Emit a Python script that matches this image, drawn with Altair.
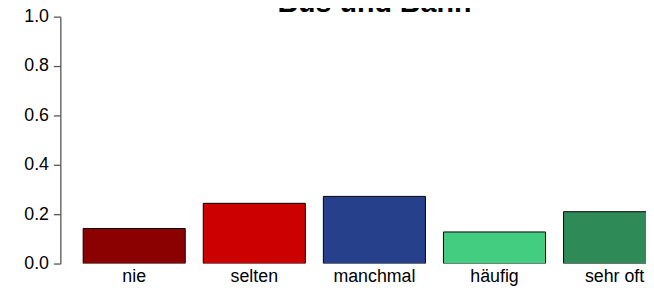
import altair as alt
import pandas as pd

categories = ["nie", "selten", "manchmal", "häufig", "sehr oft"]
values = [0.142, 0.244, 0.272, 0.128, 0.210]
colors = ["#8B0000", "#CD0000", "#27408B", "#43CD80", "#2E8B57"]
title_text = "Bus und Bahn"

df = pd.DataFrame({"cat": categories, "val": values})

FONT = "Liberation Sans"

x = alt.X(
    "cat:N",
    sort=categories,
    scale=alt.Scale(range=[0, 636], paddingInner=0.15, paddingOuter=0.19),
    axis=alt.Axis(
        title=None, domain=False, ticks=False, labelAngle=0,
        labelFont=FONT, labelFontSize=18, labelColor="#000000", labelPadding=4,
    ),
)

bars = alt.Chart(df).mark_bar(stroke="#000000", strokeWidth=1, clip=True).encode(
    x=x,
    y=alt.Y(
        "val:Q",
        scale=alt.Scale(domain=[0, 1], nice=False, zero=True),
        axis=alt.Axis(
            title=None, values=[0, 0.2, 0.4, 0.6, 0.8, 1.0], format=".1f",
            grid=False, domainColor="#555555", tickColor="#555555",
            domainWidth=1.3, tickWidth=1.3, tickSize=7, labelPadding=5,
            labelFont=FONT, labelFontSize=18, labelColor="#000000",
        ),
    ),
    color=alt.Color(
        "cat:N", sort=categories,
        scale=alt.Scale(domain=categories, range=colors), legend=None,
    ),
)

title = alt.Chart(pd.DataFrame({"t": [title_text]})).mark_text(
    font=FONT, fontSize=29, fontWeight="bold", color="#000000",
    baseline="alphabetic", align="center",
).encode(
    text="t:N",
    x=alt.value(318),
    y=alt.value(-5),
)

chart = alt.layer(bars, title).properties(
    width=593,
    height=250,
    autosize=alt.AutoSizeParams(type="none"),
    padding={"left": 53, "top": 7, "right": 0, "bottom": 24},
).configure(
    background="#ffffff",
    view=alt.ViewConfig(stroke=None),
)

chart.save("out.html", embed_options={"renderer": "svg", "actions": False})
